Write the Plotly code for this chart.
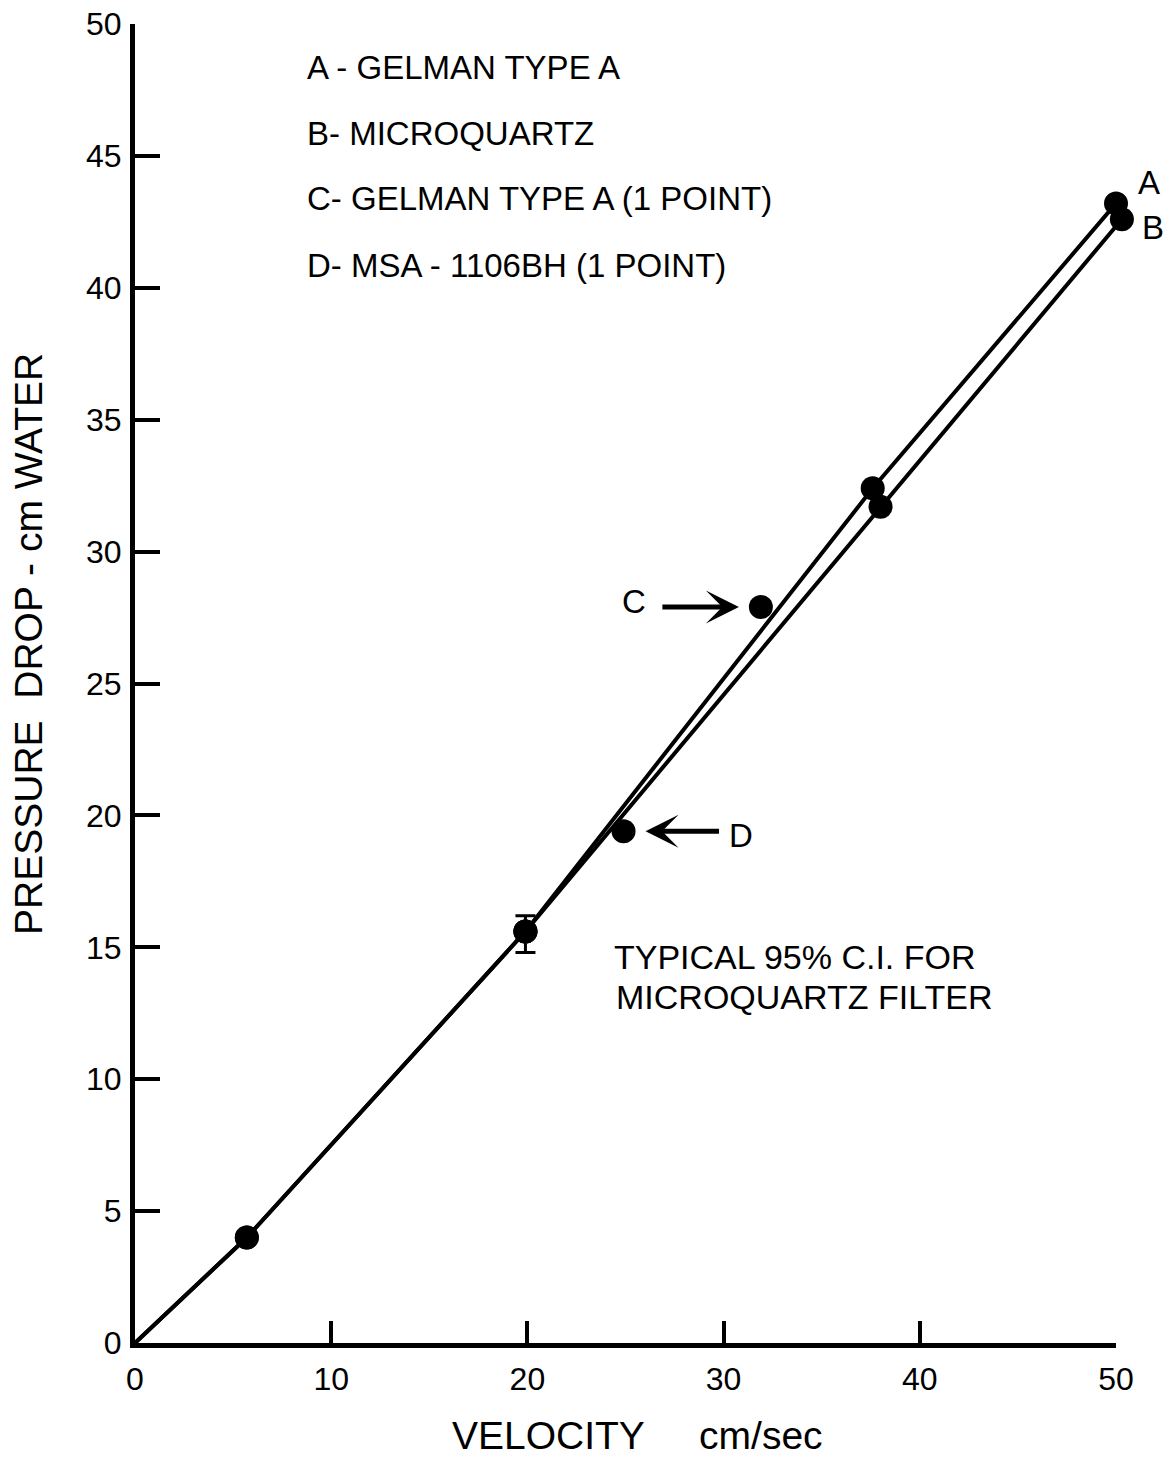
import plotly.graph_objects as go

# Measured pressure drop (cm water) against face velocity (cm/sec)
vel_a = [5.7, 19.9, 37.6, 50.0]          # Gelman type A
dp_a = [4.0, 15.6, 32.4, 43.2]
vel_b = [5.7, 19.9, 38.0, 50.3]          # Microquartz
dp_b = [4.0, 15.6, 31.7, 42.6]
vel_c = [31.9]                           # Gelman type A, single point
dp_c = [27.9]
vel_d = [24.9]                           # MSA-1106BH, single point
dp_d = [19.4]

# Typical 95% confidence interval for the microquartz filter
ci_vel = [19.9]
ci_dp = [15.6]
ci_plus = [0.6]
ci_minus = [0.8]

x_ticks = [0, 10, 20, 30, 40, 50]
y_ticks = [0, 5, 10, 15, 20, 25, 30, 35, 40, 45, 50]

legend_lines = [
    "A - GELMAN TYPE A",
    "B- MICROQUARTZ",
    "C- GELMAN TYPE A (1 POINT)",
    "D- MSA - 1106BH (1 POINT)",
]

FONT = "Liberation Sans"
INK = "black"
DOT = 24
LW = 4

W, H = 1169, 1458
ML, MR, MT, MB = 135, 20, 24, 115
AXIS_PX = 981                      # drawn length of the velocity axis
plot_w = W - ML - MR
frac = AXIS_PX / plot_w            # visible axis ends at 50, the curve B runs a little past it

fig = go.Figure()


def add_curve(vx, vy, xaxis):
    # Curves start at the origin and run through the measured points
    fig.add_trace(go.Scatter(
        x=[0] + vx, y=[0] + vy, mode="lines", xaxis=xaxis,
        line=dict(color=INK, width=LW), cliponaxis=False, hoverinfo="skip",
    ))
    fig.add_trace(go.Scatter(
        x=vx, y=vy, mode="markers", xaxis=xaxis,
        marker=dict(color=INK, size=DOT), cliponaxis=False,
    ))


add_curve(vel_a, dp_a, "x")
add_curve(vel_b, dp_b, "x2")

for vx, vy in [(vel_c, dp_c), (vel_d, dp_d)]:
    fig.add_trace(go.Scatter(
        x=vx, y=vy, mode="markers",
        marker=dict(color=INK, size=DOT), cliponaxis=False,
    ))

fig.add_trace(go.Scatter(
    x=ci_vel, y=ci_dp, mode="markers",
    marker=dict(color=INK, size=DOT),
    error_y=dict(type="data", symmetric=False, array=ci_plus,
                 arrayminus=ci_minus, color=INK, thickness=3, width=10),
    cliponaxis=False,
))

annotations = []
txt = dict(family=FONT, size=33, color=INK)

# Filter key in the upper left
key_y = [0.967, 0.917, 0.868, 0.817]
for line, yy in zip(legend_lines, key_y):
    annotations.append(dict(
        text=line, xref="x domain", yref="y domain", x=0.173, y=yy,
        xanchor="left", yanchor="middle", showarrow=False, font=txt,
    ))

# Curve labels beside the end points
annotations.append(dict(text="A", xref="x", yref="y", x=vel_a[-1], y=dp_a[-1],
                        xshift=33, yshift=21, showarrow=False, font=txt))
annotations.append(dict(text="B", xref="x2", yref="y", x=vel_b[-1], y=dp_b[-1],
                        xshift=31, yshift=-8, showarrow=False, font=txt))

# Arrows pointing to the single points
arrow = dict(showarrow=True, arrowhead=3, arrowsize=1.1, arrowwidth=5,
             arrowcolor=INK, standoff=22)
annotations.append(dict(text="", x=vel_c[0], y=dp_c[0], ax=-100, ay=0, **arrow))
annotations.append(dict(text="C", x=vel_c[0], y=dp_c[0], xshift=-127, yshift=6,
                        showarrow=False, font=txt))
annotations.append(dict(text="", x=vel_d[0], y=dp_d[0], ax=97, ay=0, **arrow))
annotations.append(dict(text="D", x=vel_d[0], y=dp_d[0], xshift=117, yshift=-4,
                        showarrow=False, font=txt))

# Note on the confidence interval
note = dict(family=FONT, size=34, color=INK)
annotations.append(dict(text="TYPICAL 95% C.I. FOR", xref="x domain", yref="y domain",
                        x=0.486, y=0.2925, xanchor="left", yanchor="middle",
                        showarrow=False, font=note))
annotations.append(dict(text="MICROQUARTZ FILTER", xref="x domain", yref="y domain",
                        x=0.488, y=0.262, xanchor="left", yanchor="middle",
                        showarrow=False, font=note))

# Axis titles
annotations.append(dict(
    text="VELOCITY\u00a0\u00a0\u00a0\u00a0\u00a0cm/sec",
    xref="x domain", yref="y domain", x=0.512, y=-0.0698,
    xanchor="center", yanchor="middle", showarrow=False,
    font=dict(family=FONT, size=39, color=INK),
))
annotations.append(dict(
    text="PRESSURE\u00a0\u00a0DROP - cm WATER",
    xref="x domain", yref="y domain", x=-0.108, y=0.530,
    xanchor="center", yanchor="middle", textangle=-90, showarrow=False,
    font=dict(family=FONT, size=39, color=INK),
))

axis_common = dict(
    showgrid=False, zeroline=False,
    showline=True, linecolor=INK, linewidth=5,
    ticks="inside", tickcolor=INK, tickwidth=4,
    tickfont=dict(family=FONT, size=32, color=INK),
)

fig.update_layout(
    width=W, height=H,
    margin=dict(l=ML, r=MR, t=MT, b=MB, autoexpand=False),
    paper_bgcolor="white", plot_bgcolor="rgba(0,0,0,0)",
    showlegend=False,
    xaxis=dict(**axis_common, domain=[0, frac], range=[0, 50], anchor="y",
               tickvals=x_ticks, ticklen=22, ticklabelstandoff=4),
    xaxis2=dict(domain=[0, 1], range=[0, 50 / frac], anchor="y", visible=False),
    yaxis=dict(**axis_common, range=[0, 50], anchor="x",
               tickvals=y_ticks, ticklen=25, ticklabelstandoff=2),
    annotations=annotations,
)

fig.write_html("out.html")
